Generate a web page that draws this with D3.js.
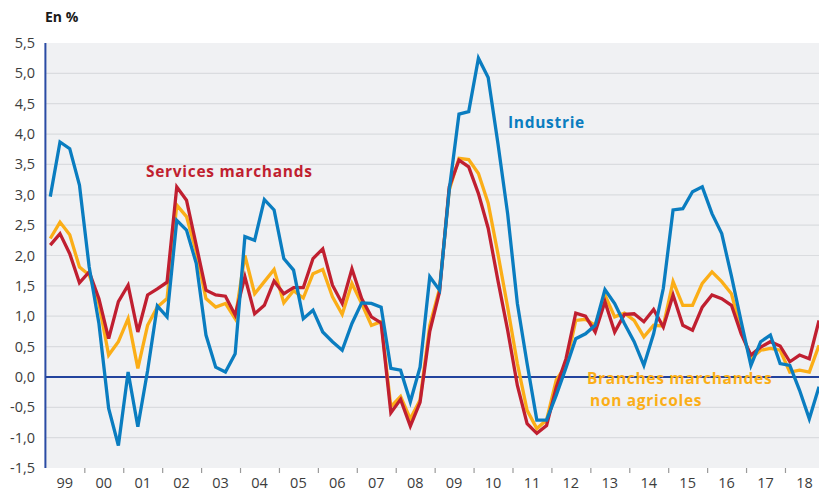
<!DOCTYPE html>
<html>
<head>
<meta charset="utf-8">
<script src="https://cdn.jsdelivr.net/npm/d3@7"></script>
<style>
  body { margin: 0; background: #fff; }
  text { font-family: "Open Sans", sans-serif; }
</style>
</head>
<body>
<script>
// define width and height
var width = 819;
var height = 493;
var plot = {left: 45.4, right: 819, top: 43, bottom: 468};

// years shown on the x axis
var years = ["99","00","01","02","03","04","05","06","07","08","09",
             "10","11","12","13","14","15","16","17","18"];
var yTicks = [-1.5, -1, -0.5, 0, 0.5, 1, 1.5, 2, 2.5, 3, 3.5, 4, 4.5, 5, 5.5];

// quarterly values, 1999 Q1 to 2018 Q4 (en %)
var industrie = [
  2.97, 3.87, 3.76, 3.16,   1.81, 0.88, -0.52, -1.13,
  0.08, -0.82, 0.10, 1.17,  0.99, 2.58, 2.42, 1.87,
  0.69, 0.16, 0.08, 0.38,   2.31, 2.25, 2.92, 2.75,
  1.95, 1.76, 0.96, 1.10,   0.74, 0.58, 0.44, 0.88,
  1.22, 1.21, 1.15, 0.14,   0.11, -0.41, 0.16, 1.65,
  1.43, 3.08, 4.33, 4.37,   5.25, 4.93, 3.85, 2.69,
  1.21, 0.22, -0.71, -0.71, -0.30, 0.15, 0.63, 0.71,
  0.85, 1.44, 1.21, 0.88,   0.58, 0.19, 0.71, 1.46,
  2.75, 2.77, 3.05, 3.13,   2.69, 2.36, 1.66, 0.91,
  0.19, 0.58, 0.69, 0.22,   0.19, -0.22, -0.69, -0.16
];
var services = [
  2.17, 2.36, 2.03, 1.55,   1.73, 1.29, 0.63, 1.24,
  1.51, 0.74, 1.35, 1.45,   1.56, 3.13, 2.91, 2.17,
  1.43, 1.35, 1.33, 1.02,   1.65, 1.04, 1.18, 1.58,
  1.37, 1.47, 1.47, 1.95,   2.11, 1.51, 1.21, 1.78,
  1.29, 0.99, 0.89, -0.59,  -0.37, -0.81, -0.42, 0.75,
  1.40, 3.13, 3.57, 3.46,   3.02, 2.45, 1.59, 0.77,
  -0.14, -0.77, -0.93, -0.80, -0.17, 0.30, 1.05, 1.00,
  0.74, 1.24, 0.74, 1.03,   1.04, 0.91, 1.11, 0.82,
  1.35, 0.85, 0.77, 1.15,   1.35, 1.29, 1.18, 0.71,
  0.36, 0.49, 0.58, 0.51,   0.25, 0.36, 0.30, 0.93
];
var branches = [
  2.28, 2.55, 2.34, 1.81,   1.68, 1.21, 0.36, 0.58,
  0.96, 0.14, 0.85, 1.15,   1.29, 2.83, 2.64, 2.06,
  1.29, 1.15, 1.21, 0.96,   2.00, 1.37, 1.57, 1.77,
  1.22, 1.42, 1.30, 1.70,   1.77, 1.32, 1.03, 1.54,
  1.21, 0.85, 0.91, -0.49,  -0.32, -0.69, -0.38, 0.85,
  1.45, 3.08, 3.60, 3.58,   3.35, 2.86, 2.03, 1.15,
  0.22, -0.55, -0.85, -0.71, -0.05, 0.19, 0.93, 0.95,
  0.85, 1.35, 0.99, 1.05,   0.93, 0.66, 0.85, 0.84,
  1.57, 1.18, 1.18, 1.54,   1.73, 1.57, 1.37, 0.77,
  0.30, 0.44, 0.47, 0.44,   0.08, 0.11, 0.08, 0.52
];

var colors = {industrie: "#0a7dc0", services: "#c01f30", branches: "#fbae17"};

var svg = d3.select("body")
            .append("svg")
            .attr("width", width)
            .attr("height", height);

var x = d3.scaleLinear()
          .domain([1999, 2019])
          .range([plot.left, plot.left + 20 * 38.925]);
var y = d3.scaleLinear()
          .domain([-1.5, 5.5])
          .range([plot.bottom, plot.top]);

// clip so the last year runs to the right edge
svg.append("clipPath")
   .attr("id", "clip")
   .append("rect")
   .attr("x", plot.left)
   .attr("y", 0)
   .attr("width", plot.right - plot.left)
   .attr("height", height);

// plot background
svg.append("rect")
   .attr("x", plot.left)
   .attr("y", plot.top)
   .attr("width", plot.right - plot.left)
   .attr("height", plot.bottom - plot.top)
   .attr("fill", "#f0f1f3");

// horizontal grid
svg.append("g")
   .selectAll("line")
   .data(yTicks.filter(function(d) { return d != 0 && d > -1.5 && d < 5.5; }))
   .enter().append("line")
   .attr("x1", plot.left)
   .attr("x2", plot.right)
   .attr("y1", function(d) { return y(d); })
   .attr("y2", function(d) { return y(d); })
   .attr("stroke", "#dadcdf")
   .attr("stroke-width", 1.2);

// y axis labels
svg.append("g")
   .selectAll("text")
   .data(yTicks)
   .enter().append("text")
   .attr("x", 35)
   .attr("y", function(d) { return y(d) + 5; })
   .attr("text-anchor", "end")
   .attr("font-size", 14.5)
   .attr("fill", "#3c3c3c")
   .text(function(d) { return d3.format(".1f")(d).replace(".", ",").replace("−", "-"); });

// x axis ticks at year boundaries
var bottomAxis = d3.axisBottom(x)
                   .tickValues(d3.range(2000, 2019))
                   .tickSize(5)
                   .tickFormat("");
svg.append("g")
   .attr("transform", "translate(0," + plot.bottom + ")")
   .call(bottomAxis)
   .call(function(g) {
     g.select(".domain").remove();
     g.selectAll(".tick line").attr("stroke", "#9a9a9a").attr("stroke-width", 1.2);
   });

// year labels in the middle of each year
svg.append("g")
   .selectAll("text")
   .data(years)
   .enter().append("text")
   .attr("x", function(d, i) { return x(1999 + i + 0.5); })
   .attr("y", 488)
   .attr("text-anchor", "middle")
   .attr("font-size", 14.5)
   .attr("fill", "#3c3c3c")
   .text(function(d) { return d; });

// zero line and y axis line
svg.append("line")
   .attr("x1", plot.left)
   .attr("x2", plot.right)
   .attr("y1", y(0))
   .attr("y2", y(0))
   .attr("stroke", "#22439d")
   .attr("stroke-width", 2);
svg.append("line")
   .attr("x1", plot.left)
   .attr("x2", plot.left)
   .attr("y1", plot.top)
   .attr("y2", plot.bottom)
   .attr("stroke", "#2a4ba4")
   .attr("stroke-width", 2);

// series lines
var line = d3.line()
             .x(function(d, i) { return x(1999 + (i + 0.5) / 4); })
             .y(function(d) { return y(d); });

var series = [
  {values: branches, color: colors.branches},
  {values: services, color: colors.services},
  {values: industrie, color: colors.industrie}
];

svg.append("g")
   .attr("clip-path", "url(#clip)")
   .selectAll("path")
   .data(series)
   .enter().append("path")
   .attr("d", function(d) { return line(d.values); })
   .attr("fill", "none")
   .attr("stroke", function(d) { return d.color; })
   .attr("stroke-width", 3.3)
   .attr("stroke-linejoin", "miter");

// labels
svg.append("text")
   .attr("x", 45)
   .attr("y", 22)
   .attr("font-size", 14)
   .attr("font-weight", "bold")
   .attr("fill", "#1a1a1a")
   .text("En %");

var labelFont = 15.5;
var labelSpacing = 0.7;

svg.append("text")
   .attr("x", 146)
   .attr("y", 177)
   .attr("font-size", labelFont)
   .attr("font-weight", "bold")
   .attr("letter-spacing", labelSpacing)
   .attr("fill", colors.services)
   .text("Services marchands");

svg.append("text")
   .attr("x", 508)
   .attr("y", 128)
   .attr("font-size", labelFont)
   .attr("font-weight", "bold")
   .attr("letter-spacing", labelSpacing)
   .attr("fill", colors.industrie)
   .text("Industrie");

// two-line label, lines far enough apart not to collide
svg.append("text")
   .attr("x", 587)
   .attr("y", 384)
   .attr("font-size", labelFont)
   .attr("font-weight", "bold")
   .attr("letter-spacing", labelSpacing)
   .attr("fill", colors.branches)
   .text("Branches marchandes");

svg.append("text")
   .attr("x", 590)
   .attr("y", 406)
   .attr("font-size", labelFont)
   .attr("font-weight", "bold")
   .attr("letter-spacing", labelSpacing)
   .attr("fill", colors.branches)
   .text("non agricoles");
</script>
</body>
</html>
